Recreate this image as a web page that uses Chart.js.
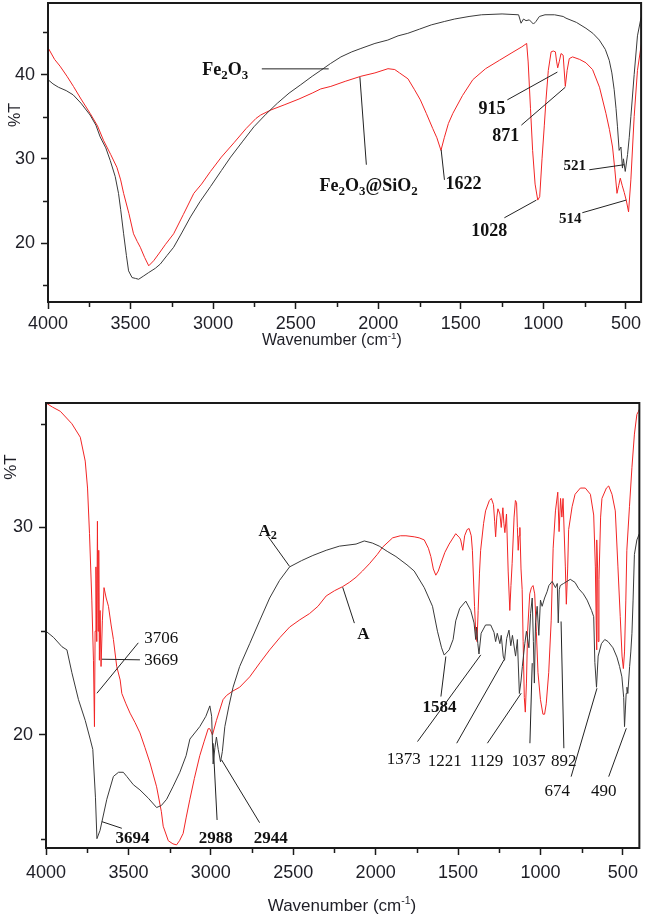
<!DOCTYPE html>
<html>
<head>
<meta charset="utf-8">
<script src="https://cdn.jsdelivr.net/npm/chart.js@4.4.1/dist/chart.umd.min.js"></script>
<style>
  body { margin: 0; background: #fff; }
  #wrap { position: relative; width: 645px; height: 916px; }
  canvas { position: absolute; left: 0; }
</style>
</head>
<body>
<div id="wrap">
  <canvas id="chartTopo" width="645" height="360" style="top:0"></canvas>
  <canvas id="chartBaixo" width="645" height="536" style="top:380px"></canvas>
</div>
<script>
// ---- painel de cima: Fe2O3 e Fe2O3@SiO2 ----
const fe2o3Wn = [
  4000,3970,3937,3890,3848,3800,3745,3710,3684,3650,
  3623,3593,3573,3560,3542,3525,3512,3491,3470,3451,
  3420,3390,3350,3320,3280,3239,3190,3137,3080,3016,
  2950,2894,2820,2753,2680,2611,2540,2469,2400,2348,
  2290,2226,2160,2105,2020,1942,1880,1821,1750,1679,
  1600,1537,1450,1375,1250,1150,1135,1120,1105,1085,
  1060,1045,1024,990,932,880,863,800,742,700,
  661,625,601,585,571,560,551,541,530,521,
  515,504,490,480,470,450,430,409,400
]
const fe2o3T = [
  39.4,38.9,38.5,38.1,37.6,36.6,35.2,34.0,32.6,31.3,
  29.8,27.9,25.9,24.0,21.1,18.5,16.7,15.9,15.8,15.7,
  16.1,16.5,17.0,17.5,18.5,19.5,21.2,23.1,24.9,26.7,
  28.6,30.2,32.1,33.8,35.3,36.6,37.8,38.8,39.8,40.5,
  41.3,42.1,42.7,43.1,43.7,44.1,44.6,44.9,45.4,45.9,
  46.3,46.6,46.9,47.1,47.2,47.1,46.1,46.6,46.4,46.5,
  46.0,46.3,46.9,47.1,47.1,46.9,46.7,46.2,45.5,44.9,
  44.1,43.0,41.7,40.2,38.2,36.0,33.8,31.0,31.4,28.9,
  30.0,28.5,30.5,32.5,35.0,40.0,44.6,46.7,47.2
]
const fe2o3SiWn = [
  4000,3960,3927,3885,3846,3800,3745,3700,3664,3620,
  3583,3560,3542,3510,3482,3460,3441,3415,3390,3360,
  3330,3290,3239,3180,3117,3070,3016,2950,2874,2800,
  2740,2712,2650,2570,2480,2400,2348,2287,2200,2105,
  2020,1941,1900,1871,1820,1780,1745,1709,1670,1645,
  1620,1600,1575,1548,1490,1427,1350,1266,1190,1130,
  1101,1092,1078,1065,1050,1034,1022,1008,994,984,
  970,953,940,927,920,913,903,893,880,867,
  856,843,823,780,742,702,660,621,600,581,
  567,554,544,534,522,510,497,484,470,450,
  430,409,400
]
const fe2o3SiT = [
  43.2,41.8,41.0,39.8,38.6,37.1,35.4,33.9,32.2,30.5,
  29.0,27.5,25.9,23.5,21.1,20.2,19.5,18.3,17.3,17.9,
  18.7,19.8,21.1,23.4,25.9,27.0,28.5,30.2,31.9,33.6,
  34.8,35.2,35.8,36.4,37.1,37.8,38.3,38.6,39.2,39.8,
  40.2,40.7,40.6,40.2,39.5,38.2,37.0,35.4,33.6,32.5,
  31.0,32.5,34.2,35.4,37.5,39.4,40.7,41.7,42.6,43.3,
  43.7,41.5,36.0,31.0,27.0,25.1,25.5,30.0,34.0,37.0,
  40.5,42.7,42.8,42.7,41.6,40.8,41.6,42.5,42.3,38.6,
  40.5,41.9,42.1,41.8,41.4,40.6,38.5,35.4,33.5,31.4,
  28.7,25.9,26.8,27.7,26.8,26.0,25.0,23.7,27.5,35.0,
  40.5,43.3,44.2
]

// ---- painel de baixo: A2 (preto) e A (vermelho) ----
const a2Wn = [
  4000,3954,3903,3873,3843,3803,3762,3732,3716,3700,
  3691,3672,3631,3591,3560,3531,3510,3470,3430,3379,
  3329,3300,3268,3230,3188,3150,3127,3067,3030,3006,
  2995,2986,2975,2966,2955,2941,2930,2915,2890,2865,
  2825,2764,2704,2643,2583,2522,2450,2381,2300,2220,
  2119,2069,2020,1978,1930,1877,1810,1766,1705,1655,
  1625,1600,1584,1554,1530,1514,1490,1453,1423,1403,
  1393,1388,1380,1373,1360,1333,1302,1282,1272,1262,
  1246,1238,1226,1218,1205,1191,1180,1170,1151,1140,
  1128,1118,1110,1095,1085,1070,1060,1050,1043,1037,
  1030,1020,1010,1000,990,975,960,949,929,909,
  898,892,886,880,860,819,790,768,740,717,
  690,677,670,660,650,630,610,590,560,536,
  520,506,495,490,485,480,475,470,459,452,
  445,438,430,415,400
]
const a2T = [
  25.0,24.7,24.25,24.1,23.0,21.7,20.7,19.8,19.3,17.0,
  15.0,15.4,16.9,18.0,18.2,18.2,18.0,17.6,17.35,16.95,
  16.5,16.6,16.9,17.5,18.2,19.0,19.8,20.4,20.9,21.4,
  20.9,18.6,19.4,19.9,19.3,18.7,19.2,20.4,21.4,22.3,
  23.3,24.4,25.5,26.6,27.45,28.1,28.4,28.65,28.9,29.1,
  29.2,29.35,29.25,29.1,28.85,28.6,28.2,27.9,27.1,26.2,
  25.0,24.2,23.85,24.1,24.6,25.5,26.1,26.45,26.0,25.4,
  24.6,25.2,24.4,23.9,24.9,25.3,25.3,24.95,24.5,24.9,
  24.4,24.8,23.8,23.6,24.65,25.05,24.3,24.8,23.8,24.6,
  22.0,22.6,23.3,24.4,25.0,24.2,25.85,26.6,24.5,22.5,
  25.4,26.2,24.8,26.5,26.2,26.6,26.9,27.2,27.4,27.1,
  27.3,25.4,27.0,27.2,27.3,27.5,27.35,27.05,26.8,26.5,
  26.0,25.7,23.5,22.3,23.8,24.4,24.6,24.5,24.2,23.75,
  23.3,22.8,21.8,20.4,21.2,22.0,22.3,22.0,23.3,24.0,
  24.9,26.5,28.7,29.4,29.7
]
const aWn = [
  4000,3960,3913,3843,3792,3762,3748,3736,3722,3712,
  3706,3702,3697,3692,3688,3684,3680,3676,3672,3666,
  3658,3648,3635,3621,3605,3591,3571,3550,3540,3515,
  3490,3460,3430,3400,3369,3329,3300,3289,3258,3230,
  3208,3190,3168,3150,3127,3100,3067,3040,3016,3006,
  2990,2966,2926,2905,2870,2825,2764,2700,2643,2580,
  2522,2460,2401,2350,2300,2250,2200,2160,2119,2080,
  2038,1990,1958,1897,1850,1816,1766,1736,1705,1680,
  1665,1650,1635,1620,1605,1580,1554,1514,1490,1484,
  1471,1460,1445,1433,1420,1413,1400,1393,1385,1378,
  1370,1363,1345,1333,1310,1298,1285,1278,1272,1265,
  1258,1246,1238,1228,1222,1216,1206,1196,1186,1179,
  1172,1160,1152,1145,1140,1135,1130,1125,1118,1111,
  1105,1098,1092,1085,1078,1065,1055,1045,1035,1025,
  1015,1000,985,975,965,950,935,923,909,895,
  887,878,870,863,849,843,835,829,808,790,
  758,728,697,677,667,662,660,657,653,650,
  645,635,627,600,586,566,546,530,516,505,
  497,490,482,476,460,445,430,415,405,400
]
const aT = [
  36.0,35.8,35.6,35.0,34.35,33.2,31.9,29.7,26.5,23.6,
  20.4,25.0,28.1,24.5,30.3,25.0,28.9,23.6,26.0,23.3,
  25.5,27.1,26.6,26.2,25.3,24.6,23.3,22.65,22.0,21.5,
  21.05,20.6,20.1,19.4,18.65,17.5,16.3,15.6,14.9,14.75,
  14.7,14.9,15.25,16.0,16.9,17.9,19.0,19.7,20.3,20.3,
  20.0,20.7,21.7,21.9,22.1,22.3,22.8,23.5,24.1,24.7,
  25.2,25.55,25.85,26.2,26.7,26.95,27.15,27.35,27.6,27.9,
  28.25,28.7,29.05,29.5,29.6,29.6,29.55,29.5,29.4,29.0,
  28.6,28.0,27.7,27.9,28.25,28.8,29.2,29.7,29.5,29.4,
  28.9,29.6,29.9,29.95,29.6,28.9,26.2,25.0,24.5,26.0,
  27.8,28.9,30.2,30.8,31.3,31.4,31.1,30.3,29.55,30.5,
  30.9,30.65,30.0,30.95,30.2,29.75,30.65,27.9,26.0,27.2,
  28.25,30.5,31.3,31.2,30.0,28.9,29.6,30.0,28.0,27.0,
  24.5,21.8,21.1,22.5,25.0,26.8,27.1,27.2,26.8,25.0,
  23.0,21.7,21.0,21.0,21.5,23.0,25.5,29.0,30.8,31.7,
  29.8,31.4,30.5,31.4,28.1,26.3,28.0,29.9,31.0,31.6,
  31.9,31.9,31.6,30.6,28.1,25.5,24.1,29.4,28.0,24.5,
  27.5,30.5,31.4,31.9,32.0,31.6,30.8,28.1,25.7,23.8,
  23.2,24.0,26.5,28.9,31.0,32.9,34.5,35.45,35.6,35.7
]

// ---- eixos ----
const xTicks = [4000, 3500, 3000, 2500, 2000, 1500, 1000, 500]
const xMinor = [3750, 3250, 2750, 2250, 1750, 1250, 750]
const yTicksTopo = [20, 30, 40]
const yMinorTopo = [15, 25, 35, 45]
const yTicksBaixo = [20, 30]
const yMinorBaixo = [15, 25, 35]

// rotulos dos picos ('_2' = subscrito); posicoes em [numero de onda, %T]
const notasTopo = [
  { t: 'Fe_2O_3', at: [2926, 40.68], de: [2705, 40.68], ate: [2300, 40.68], b: true, s: 18 },
  { t: 'Fe_2O_3@SiO_2', at: [2058, 26.9], de: [2072, 29.3], ate: [2111, 39.7], b: true, s: 18 },
  { t: '1622', at: [1484, 27.15], de: [1599, 27.5], ate: [1619, 31.07], b: true, s: 18 },
  { t: '915', at: [1311, 36.05], de: [1218, 37.0], ate: [915, 40.3], b: true, s: 18 },
  { t: '871', at: [1227, 32.85], de: [1133, 34.0], ate: [867, 38.5], b: true, s: 18 },
  { t: '1028', at: [1327, 21.6], de: [1236, 23.0], ate: [1042, 25.1], b: true, s: 18 },
  { t: '521', at: [810, 29.3], de: [722, 28.7], ate: [510, 29.3], b: true, s: 15 },
  { t: '514', at: [837, 23.0], de: [764, 23.6], ate: [498, 25.1], b: true, s: 15 }
]
const notasBaixo = [
  { t: '3706', at: [3300, 24.73], de: [3440, 24.44], ate: [3691, 22.01], b: false, s: 17 },
  { t: '3669', at: [3300, 23.67], de: [3430, 23.62], ate: [3661, 23.65], b: false, s: 17 },
  { t: '3694', at: [3475, 15.09], de: [3540, 15.5], ate: [3661, 15.82], b: true, s: 17 },
  { t: '2988', at: [2970, 15.09], de: [2962, 15.9], ate: [2986, 19.6], b: true, s: 17 },
  { t: '2944', at: [2637, 15.08], de: [2704, 15.77], ate: [2935, 18.8], b: true, s: 17 },
  { t: 'A_2', at: [2655, 29.89], de: [2653, 29.57], ate: [2522, 28.12], b: true, s: 17 },
  { t: 'A', at: [2074, 24.92], de: [2129, 25.39], ate: [2200, 27.12], b: true, s: 17 },
  { t: '1584', at: [1612, 21.37], de: [1604, 21.85], ate: [1574, 23.78], b: true, s: 17 },
  { t: '1373', at: [1829, 18.88], de: [1746, 19.68], ate: [1362, 23.86], b: false, s: 17 },
  { t: '1221', at: [1581, 18.8], de: [1508, 19.6], ate: [1221, 23.62], b: false, s: 17 },
  { t: '1129', at: [1327, 18.8], de: [1322, 19.6], ate: [1117, 22.01], b: false, s: 17 },
  { t: '1037', at: [1073, 18.8], de: [1064, 19.6], ate: [1050, 23.46], b: false, s: 17 },
  { t: '892', at: [858, 18.8], de: [858, 19.36], ate: [875, 25.47], b: false, s: 17 },
  { t: '674', at: [898, 17.35], de: [814, 17.99], ate: [657, 22.25], b: false, s: 17 },
  { t: '490', at: [616, 17.35], de: [586, 17.99], ate: [479, 20.32], b: false, s: 17 }
]

const fonteSans = "'Liberation Sans', Arial, sans-serif"
const fonteSerif = "'Liberation Serif', 'Times New Roman', serif"
const corTexto = '#1e1e26'
const corEixo = '#1a1a1a'

// texto centrado em (cx, cy), com subscrito (_2) e sobrescrito (^-1)
function desenharTexto(ctx, texto, cx, cy, tamanho, peso, familia) {
  const pecas = texto.split(/(_\d|\^-?\d+)/).filter(p => p !== '').map(p => {
    if (p[0] === '_') return { s: p.slice(1), tam: tamanho * 0.72, dy: tamanho * 0.2 }
    if (p[0] === '^') return { s: p.slice(1), tam: tamanho * 0.62, dy: -tamanho * 0.4 }
    return { s: p, tam: tamanho, dy: 0 }
  })
  let total = 0
  pecas.forEach(p => {
    ctx.font = `${peso} ${p.tam}px ${familia}`
    p.w = ctx.measureText(p.s).width
    total += p.w
  })
  let x = cx - total / 2
  const base = cy + tamanho * 0.34
  ctx.textAlign = 'left'
  ctx.textBaseline = 'alphabetic'
  pecas.forEach(p => {
    ctx.font = `${peso} ${p.tam}px ${familia}`
    ctx.fillText(p.s, x, base + p.dy)
    x += p.w
  })
}

function pluginAnotacoes(cfg) {
  return {
    id: 'anotacoes',
    afterDraw(chart) {
      const ctx = chart.ctx
      const a = chart.chartArea
      const sx = chart.scales.x
      const sy = chart.scales.y
      ctx.save()

      // ticks menores
      ctx.strokeStyle = corEixo
      ctx.lineWidth = 1.5
      ctx.beginPath()
      xMinor.forEach(v => {
        const px = Math.round(sx.getPixelForValue(v)) + 0.5
        ctx.moveTo(px, a.bottom + 1)
        ctx.lineTo(px, a.bottom + 5)
      })
      cfg.yMinor.forEach(v => {
        const py = Math.round(sy.getPixelForValue(v)) + 0.5
        ctx.moveTo(a.left - 1, py)
        ctx.lineTo(a.left - 5, py)
      })
      ctx.stroke()

      // moldura
      ctx.lineWidth = 2
      ctx.strokeRect(a.left, a.top, a.right - a.left, a.bottom - a.top)

      // linhas de chamada e rotulos
      ctx.strokeStyle = '#222'
      ctx.lineWidth = 1
      ctx.fillStyle = '#111'
      cfg.notas.forEach(n => {
        ctx.beginPath()
        ctx.moveTo(sx.getPixelForValue(n.de[0]), sy.getPixelForValue(n.de[1]))
        ctx.lineTo(sx.getPixelForValue(n.ate[0]), sy.getPixelForValue(n.ate[1]))
        ctx.stroke()
        desenharTexto(ctx, n.t, sx.getPixelForValue(n.at[0]), sy.getPixelForValue(n.at[1]),
          n.s, n.b ? 'bold' : 'normal', fonteSerif)
      })

      // titulos dos eixos
      ctx.fillStyle = corTexto
      desenharTexto(ctx, 'Wavenumber (cm^-1)', cfg.tituloX[0], cfg.tituloX[1], cfg.tamTitulo, 'normal', fonteSans)
      ctx.save()
      ctx.translate(cfg.tituloY[0], cfg.tituloY[1])
      ctx.rotate(-Math.PI / 2)
      desenharTexto(ctx, '%T', 0, 0, cfg.tamTitulo, 'normal', fonteSans)
      ctx.restore()

      ctx.restore()
    }
  }
}

function criarGrafico(canvas, cfg) {
  const datasets = cfg.series.map(s => ({
    data: s.wn.map((w, i) => ({ x: w, y: s.t[i] })),
    borderColor: s.cor,
    borderWidth: 1,
    pointRadius: 0,
    tension: 0,
    fill: false
  }))

  return new Chart(canvas, {
    type: 'line',
    data: { datasets: datasets },
    options: {
      responsive: false,
      animation: false,
      devicePixelRatio: 1,
      layout: { padding: cfg.padding },
      plugins: { legend: { display: false }, tooltip: { enabled: false } },
      scales: {
        x: {
          type: 'linear',
          reverse: true,
          min: cfg.xMin,
          max: 4000,
          afterBuildTicks: s => { s.ticks = xTicks.map(v => ({ value: v })) },
          afterFit: s => { s.height = cfg.alturaX },
          grid: { drawOnChartArea: false, drawTicks: true, tickLength: 7, tickWidth: 1.5, tickColor: corEixo },
          border: { display: true, width: 2, color: corEixo },
          ticks: {
            autoSkip: false, maxRotation: 0, padding: cfg.padX, color: corTexto,
            font: { family: fonteSans, size: 18 },
            callback: v => String(v)
          }
        },
        y: {
          type: 'linear',
          min: cfg.yMin,
          max: cfg.yMax,
          afterBuildTicks: s => { s.ticks = cfg.yTicks.map(v => ({ value: v })) },
          afterFit: s => {
            s.width = cfg.larguraY
            s.paddingTop = 0
            s.paddingBottom = 0
          },
          grid: { drawOnChartArea: false, drawTicks: true, tickLength: 7, tickWidth: 1.5, tickColor: corEixo },
          border: { display: true, width: 2, color: corEixo },
          ticks: {
            padding: 6, color: corTexto,
            font: { family: fonteSans, size: 18 },
            callback: v => String(v)
          }
        }
      }
    },
    plugins: [pluginAnotacoes(cfg)]
  })
}

criarGrafico(document.getElementById('chartTopo'), {
  series: [
    { wn: fe2o3Wn, t: fe2o3T, cor: '#3a3a3a' },
    { wn: fe2o3SiWn, t: fe2o3SiT, cor: '#f22525' }
  ],
  padding: { top: 3, right: 3, left: 0, bottom: 0 },
  xMin: 408, yMin: 13.0, yMax: 48.5,
  alturaX: 58, larguraY: 48, padX: 4,
  yTicks: yTicksTopo, yMinor: yMinorTopo,
  notas: notasTopo,
  tituloX: [332, 340], tituloY: [15, 115], tamTitulo: 16
})

criarGrafico(document.getElementById('chartBaixo'), {
  series: [
    { wn: a2Wn, t: a2T, cor: '#3a3a3a' },
    { wn: aWn, t: aT, cor: '#f22525' }
  ],
  padding: { top: 23, right: 4, left: 0, bottom: 0 },
  xMin: 400, yMin: 14.55, yMax: 36.0,
  alturaX: 68, larguraY: 46, padX: 7,
  yTicks: yTicksBaixo, yMinor: yMinorBaixo,
  notas: notasBaixo,
  tituloX: [342, 525], tituloY: [10, 87], tamTitulo: 17
})
</script>
</body>
</html>
